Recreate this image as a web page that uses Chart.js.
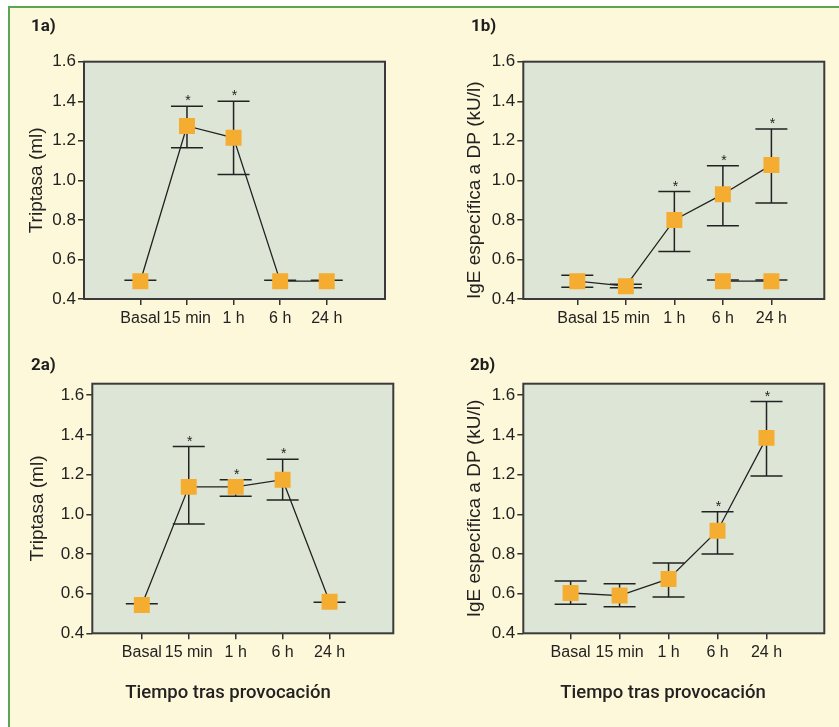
<!DOCTYPE html>
<html>
<head>
<meta charset="utf-8">
<script src="https://cdn.jsdelivr.net/npm/chart.js@4.4.1/dist/chart.umd.min.js"></script>
<style>
  html, body { margin: 0; padding: 0; background: #fff; }
  body { width: 839px; height: 727px; position: relative; overflow: hidden; }
  #frame { position: absolute; left: 8px; top: 6px; right: 0; bottom: 0; background: #fef8da;
           border-left: 2px solid #5ca552; border-top: 2px solid #5ca552; }
  canvas { position: absolute; left: 0; top: 0; }
  .panel { position: absolute; font: 700 17px Roboto, sans-serif; line-height: 17px; color: #1e1e1e; }
  .xtitle { position: absolute; font: 500 18.5px Roboto, sans-serif; line-height: 18px; color: #222;
            white-space: nowrap; transform: translateX(-50%); }
</style>
</head>
<body>
<div id="frame"></div>
<canvas id="c1a" width="839" height="727"></canvas>
<canvas id="c1b" width="839" height="727"></canvas>
<canvas id="c2a" width="839" height="727"></canvas>
<canvas id="c2b" width="839" height="727"></canvas>
<div class="panel" style="left:31px;top:17px">1a)</div>
<div class="panel" style="left:471px;top:17px">1b)</div>
<div class="panel" style="left:31px;top:356px">2a)</div>
<div class="panel" style="left:470px;top:356px">2b)</div>
<div class="xtitle" style="left:228px;top:683px">Tiempo tras provocación</div>
<div class="xtitle" style="left:663px;top:683px">Tiempo tras provocación</div>
<script>
const labels = ['Basal', '15 min', '1 h', '6 h', '24 h'];
const yTicks = [0.4, 0.6, 0.8, 1.0, 1.2, 1.4, 1.6];

// 1a) triptasa
const trip1a = [0.49, 1.275, 1.215, 0.49, 0.49];
const trip1aLo = [0.495, 1.165, 1.03, 0.495, 0.495];
const trip1aHi = [0.495, 1.375, 1.40, 0.495, 0.495];
const trip1aSig = [0, 1, 1, 0, 0];

// 1b) IgE especifica
const ige1b = [0.49, 0.465, 0.80, 0.93, 1.078];
const ige1bLo = [0.46, 0.457, 0.64, 0.77, 0.885];
const ige1bHi = [0.52, 0.475, 0.943, 1.074, 1.26];
const ige1bSig = [0, 0, 1, 1, 1];
const ige1bBase = [null, null, null, 0.49, 0.49];
const ige1bBaseErr = [null, null, null, 0.496, 0.496];

// 2a) triptasa
const trip2a = [0.543, 1.138, 1.138, 1.174, 0.559];
const trip2aLo = [0.549, 0.951, 1.091, 1.072, 0.556];
const trip2aHi = [0.549, 1.341, 1.174, 1.277, 0.556];
const trip2aSig = [0, 1, 1, 1, 0];

// 2b) IgE especifica
const ige2b = [0.603, 0.59, 0.674, 0.917, 1.385];
const ige2bLo = [0.546, 0.534, 0.583, 0.80, 1.193];
const ige2bHi = [0.664, 0.65, 0.754, 1.013, 1.568];
const ige2bSig = [0, 0, 0, 1, 1];

const INK = '#222';
const FONT = "'Liberation Sans', Arial, sans-serif";

// plot background, frame, error bars and asterisks
const plotBox = {
  id: 'plotBox',
  beforeDraw(chart) {
    const { ctx, chartArea: a } = chart;
    ctx.save();
    ctx.fillStyle = '#dde6d6';
    ctx.fillRect(a.left, a.top, a.right - a.left, a.bottom - a.top);
    ctx.restore();
  },
  beforeDatasetsDraw(chart) {
    const { ctx, chartArea: a, scales: { y } } = chart;
    ctx.save();
    ctx.strokeStyle = '#3a3a3a';
    ctx.lineWidth = 2;
    ctx.strokeRect(a.left, a.top, a.right - a.left, a.bottom - a.top);
    ctx.strokeStyle = INK;
    ctx.lineWidth = 1.5;
    chart.data.datasets.forEach((ds, i) => {
      const meta = chart.getDatasetMeta(i);
      ds.errLo.forEach((lo, j) => {
        if (lo == null) return;
        const x = meta.data[j].x;
        const yl = y.getPixelForValue(lo);
        const yh = y.getPixelForValue(ds.errHi[j]);
        ctx.beginPath();
        ctx.moveTo(x, yh); ctx.lineTo(x, yl);
        ctx.moveTo(x - 16, yh); ctx.lineTo(x + 16, yh);
        ctx.moveTo(x - 16, yl); ctx.lineTo(x + 16, yl);
        ctx.stroke();
      });
    });
    ctx.restore();
  },
  afterDatasetsDraw(chart) {
    const { ctx, scales: { y } } = chart;
    ctx.save();
    ctx.fillStyle = INK;
    ctx.font = '14px ' + FONT;
    ctx.textAlign = 'center';
    ctx.textBaseline = 'alphabetic';
    chart.data.datasets.forEach((ds, i) => {
      const meta = chart.getDatasetMeta(i);
      (ds.sig || []).forEach((s, j) => {
        if (!s) return;
        ctx.fillText('*', meta.data[j].x + 1, y.getPixelForValue(ds.errHi[j]) - 1);
      });
    });
    ctx.restore();
  }
};

function series(values, lo, hi, sig) {
  return {
    data: values.map((v, i) => ({ x: i, y: v })),
    errLo: lo, errHi: hi, sig: sig,
    borderColor: INK, borderWidth: 1.3, tension: 0,
    pointStyle: 'rect', pointRadius: 11.3, pointHoverRadius: 11.3,
    pointBackgroundColor: '#f5ad31', pointBorderColor: '#f5ad31', pointBorderWidth: 0
  };
}

function panel(id, o) {
  const tickFont = { family: FONT, size: 16 };
  new Chart(document.getElementById(id), {
    type: 'line',
    data: { datasets: o.datasets },
    options: {
      responsive: false,
      animation: false,
      events: [],
      layout: { padding: o.pad },
      plugins: { legend: { display: false }, tooltip: { enabled: false } },
      scales: {
        x: {
          type: 'linear', min: o.xMin, max: o.xMax,
          afterBuildTicks: s => { s.ticks = labels.map((_, i) => ({ value: i })); },
          afterFit: s => { s.height = 40; },
          ticks: { callback: v => labels[v], color: INK, font: tickFont, padding: 4, maxRotation: 0, autoSkip: false },
          grid: { drawOnChartArea: false, tickLength: 6, color: '#333', lineWidth: 1.5 },
          border: { display: false }
        },
        y: {
          min: 0.4, max: o.yMax,
          afterBuildTicks: s => { s.ticks = yTicks.map(v => ({ value: v })); },
          afterFit: s => { s.width = o.yW; },
          ticks: { callback: v => v.toFixed(1), color: INK, font: { family: FONT, size: 17 }, padding: 2 },
          grid: { drawOnChartArea: false, tickLength: 6, color: '#333', lineWidth: 1.5 },
          border: { display: false },
          title: { display: true, text: o.yTitle, align: o.titleAlign || 'center', color: INK,
                   font: { family: FONT, size: 19 }, padding: 0 }
        }
      }
    },
    plugins: [plotBox]
  });
}

panel('c1a', {
  datasets: [series(trip1a, trip1aLo, trip1aHi, trip1aSig)],
  pad: { left: 25, top: 61.7, right: 454, bottom: 388 },
  yW: 59, xMin: -1.21, xMax: 5.25, yMax: 1.6,
  yTitle: 'Triptasa (ml)'
});

panel('c1b', {
  datasets: [
    series(ige1b, ige1bLo, ige1bHi, ige1bSig),
    series(ige1bBase, ige1bBaseErr, ige1bBaseErr, null)
  ],
  pad: { left: 463.3, top: 61.7, right: 14.7, bottom: 388 },
  yW: 60, xMin: -1.113, xMax: 5.09, yMax: 1.6,
  yTitle: 'IgE específica a DP (kU/l)', titleAlign: 'start'
});

panel('c2a', {
  datasets: [series(trip2a, trip2aLo, trip2aHi, trip2aSig)],
  pad: { left: 25.9, top: 383.7, right: 445.7, bottom: 53.7 },
  yW: 66.4, xMin: -1.055, xMax: 5.358, yMax: 1.658,
  yTitle: 'Triptasa (ml)'
});

panel('c2b', {
  datasets: [series(ige2b, ige2bLo, ige2bHi, ige2bSig)],
  pad: { left: 463.3, top: 383.7, right: 14.7, bottom: 53.7 },
  yW: 60, xMin: -0.966, xMax: 5.18, yMax: 1.658,
  yTitle: 'IgE específica a DP (kU/l)'
});
</script>
</body>
</html>
